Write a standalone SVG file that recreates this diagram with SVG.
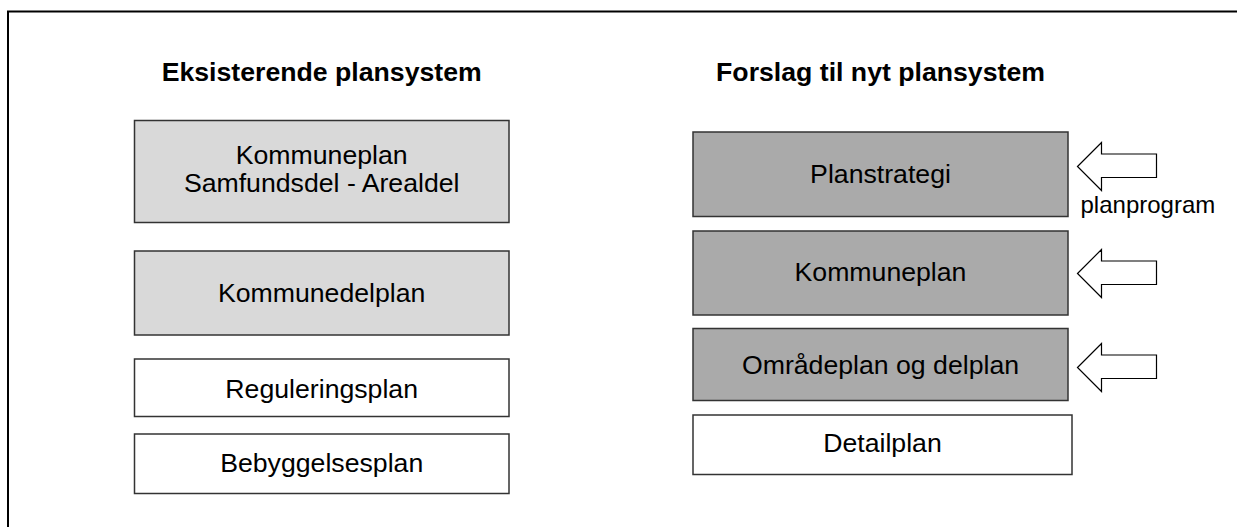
<svg xmlns="http://www.w3.org/2000/svg" width="1237" height="527" viewBox="0 0 1237 527">
  <style>
    .frame { fill: none; stroke: #000; stroke-width: 2; }
    .box { stroke: #333; stroke-width: 1.5; }
    .light { fill: #d9d9d9; }
    .dark { fill: #aaaaaa; }
    .plain { fill: #ffffff; }
    .title { font-family: "Liberation Sans", Arial, sans-serif; font-size: 26.67px; font-weight: bold; fill: #000; text-anchor: middle; }
    .label { font-family: "Liberation Sans", Arial, sans-serif; font-size: 26.67px; fill: #000; text-anchor: middle; }
    .note { font-family: "Liberation Sans", Arial, sans-serif; font-size: 24px; fill: #000; }
    .arrow { fill: #fff; stroke: #000; stroke-width: 1.2; stroke-linejoin: miter; }
  </style>
  <defs>
    <!-- hollow left-pointing block arrow, tip at origin -->
    <path id="leftArrow" d="M0,0 L24,-24 L24,-12.5 L79,-12.5 L79,11 L24,11 L24,24 Z"/>
  </defs>

  <rect width="1237" height="527" fill="#fff"/>
  <!-- outer frame, runs past the right and bottom edges -->
  <rect class="frame" x="8" y="11.5" width="1300" height="600"/>

  <g id="headings">
    <text class="title" x="321.7" y="81">Eksisterende plansystem</text>
    <text class="title" x="880.5" y="81">Forslag til nyt plansystem</text>
  </g>

  <!-- existing plan system -->
  <g id="kommuneplan-samfundsdel">
    <rect class="box light" x="134.5" y="120.5" width="374.5" height="102"/>
    <text class="label" x="321.7" y="163.5">Kommuneplan</text>
    <text class="label" x="321.7" y="192">Samfundsdel - Arealdel</text>
  </g>
  <g id="kommunedelplan">
    <rect class="box light" x="134.5" y="251" width="374.5" height="84"/>
    <text class="label" x="321.7" y="301.5">Kommunedelplan</text>
  </g>
  <g id="reguleringsplan">
    <rect class="box plain" x="134.5" y="359" width="374.5" height="57.5"/>
    <text class="label" x="321.7" y="398">Reguleringsplan</text>
  </g>
  <g id="bebyggelsesplan">
    <rect class="box plain" x="134.5" y="434" width="374.5" height="59.5"/>
    <text class="label" x="321.7" y="472">Bebyggelsesplan</text>
  </g>

  <!-- proposed plan system -->
  <g id="planstrategi">
    <rect class="box dark" x="693" y="132" width="375" height="84.5"/>
    <text class="label" x="880.5" y="183">Planstrategi</text>
  </g>
  <g id="kommuneplan">
    <rect class="box dark" x="693" y="231" width="375" height="84"/>
    <text class="label" x="880.5" y="281">Kommuneplan</text>
  </g>
  <g id="omraadeplan">
    <rect class="box dark" x="693" y="328.5" width="375" height="72"/>
    <text class="label" x="880.5" y="373.5">Områdeplan og delplan</text>
  </g>
  <g id="detailplan">
    <rect class="box plain" x="693" y="415" width="379" height="59.5"/>
    <text class="label" x="882.5" y="451.5">Detailplan</text>
  </g>

  <g id="connectors">
    <use href="#leftArrow" class="arrow" x="1077.5" y="166.5"/>
    <use href="#leftArrow" class="arrow" x="1077.5" y="273.5"/>
    <use href="#leftArrow" class="arrow" x="1077.5" y="367.5"/>
  </g>

  <g id="planprogram-label">
    <text class="note" x="1080.5" y="213">planprogram</text>
  </g>
</svg>
